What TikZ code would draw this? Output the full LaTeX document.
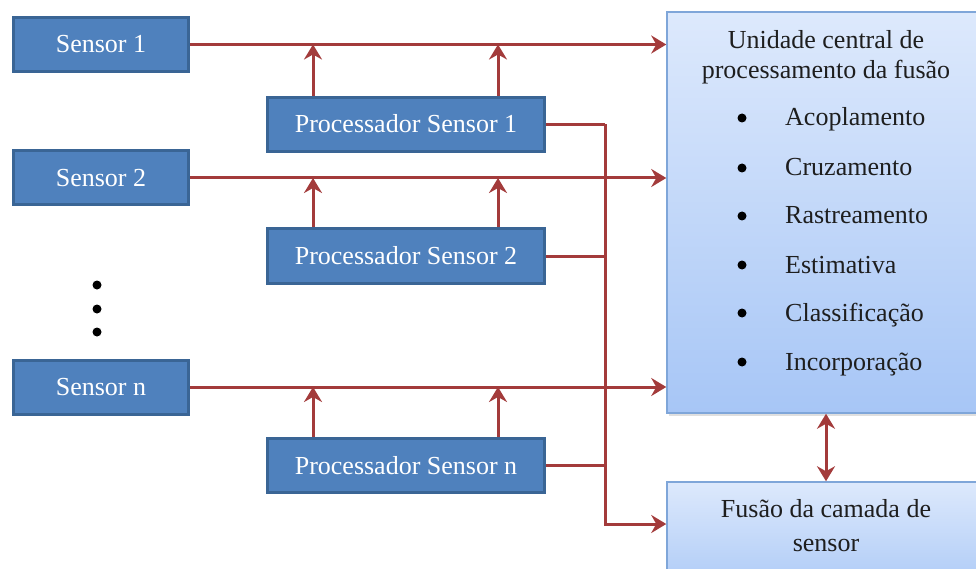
\documentclass[tikz,border=0pt]{standalone}
\usepackage{fontspec}
\setmainfont{Liberation Serif}
\usetikzlibrary{arrows.meta,shadows}
\definecolor{boxblue}{HTML}{4F81BD}
\definecolor{boxedge}{HTML}{3A6595}
\definecolor{linered}{HTML}{A33B3B}
\definecolor{lighttop}{HTML}{DDE9FC}
\definecolor{lightbot}{HTML}{A7C6F6}
\definecolor{fusbot}{HTML}{B0CCF7}
\definecolor{lightedge}{HTML}{7FA6D9}
\definecolor{darktext}{HTML}{1E1E1E}
\begin{document}
\begin{tikzpicture}[x=1pt,y=-1pt,
  sbox/.style={draw=boxedge, line width=3pt, fill=boxblue, text=white,
    minimum height=54pt, inner sep=0pt, text height=17pt, text depth=0pt,
    font=\fontsize{26}{30}\selectfont},
  cbox/.style={draw=lightedge, line width=1.5pt, top color=lighttop, bottom color=lightbot,
    inner sep=0pt, drop shadow={shadow xshift=2pt, shadow yshift=-3pt, opacity=0.25}},
  ctext/.style={text=darktext, inner sep=0pt, font=\fontsize{26}{30}\selectfont},
  bul/.style={circle, fill=black, inner sep=0pt, minimum size=9pt},
  vdot/.style={circle, fill=black, inner sep=0pt, minimum size=9pt},
  tip/.style={},
  arr/.style={draw=linered, line width=3pt, -{Stealth[length=15pt,width=18pt,inset=5pt]}},
  dbl/.style={draw=linered, line width=3pt, {Stealth[length=15pt,width=18pt,inset=5pt]}-{Stealth[length=15pt,width=18pt,inset=5pt]}},
  ln/.style={draw=linered, line width=3pt}]
\clip (0,0) rectangle (976,569);
\fill[white] (0,0) rectangle (976,569);

% central and fusion boxes
\node[cbox, minimum width=318pt, minimum height=401pt] (cen) at (826,212.5) {};
\node[cbox, top color=lighttop, bottom color=fusbot, minimum width=318pt, minimum height=100pt] (fus) at (826,532) {};

\node[ctext, anchor=base] (ct1) at (826,49) {Unidade central de};
\node[ctext, anchor=base] (ct2) at (826,79) {processamento da fusão};
\node[bul] (b1) at (742,118) {};
\node[bul] (b2) at (742,168) {};
\node[bul] (b3) at (742,216) {};
\node[bul] (b4) at (742,265) {};
\node[bul] (b5) at (742,313) {};
\node[bul] (b6) at (742,362) {};
\node[ctext, anchor=base west] (i1) at (785,126) {Acoplamento};
\node[ctext, anchor=base west] (i2) at (785,176) {Cruzamento};
\node[ctext, anchor=base west] (i3) at (785,224) {Rastreamento};
\node[ctext, anchor=base west] (i4) at (785,273) {Estimativa};
\node[ctext, anchor=base west] (i5) at (785,321) {Classificação};
\node[ctext, anchor=base west] (i6) at (785,370) {Incorporação};

\node[ctext, anchor=base] (ft1) at (826,517) {Fusão da camada de};
\node[ctext, anchor=base] (ft2) at (826,551) {sensor};

% sensors
\node[sbox, minimum width=175pt] (s1) at (101,44.5) {Sensor 1};
\node[sbox, minimum width=175pt] (s2) at (101,178) {Sensor 2};
\node[sbox, minimum width=175pt] (sn) at (101,387) {Sensor n};

\node[vdot] (d1) at (97,285) {};
\node[vdot] (d2) at (97,309) {};
\node[vdot] (d3) at (97,332) {};

% processors
\node[sbox, minimum width=277pt] (p1) at (406,124.5) {Processador Sensor 1};
\node[sbox, minimum width=277pt] (p2) at (406,256) {Processador Sensor 2};
\node[sbox, minimum width=277pt] (pn) at (406,465.5) {Processador Sensor n};

% sensor lines to central unit
\draw[arr] (s1.east) -- (s1.east -| cen.west);
\draw[arr] (s2.east) -- (s2.east -| cen.west);
\draw[arr] (sn.east) -- (sn.east -| cen.west);

% processor up arrows
\foreach \p/\s in {p1/s1,p2/s2,pn/sn}{
  \draw[arr] ([xshift=-93pt]\p.north) -- ([xshift=-93pt]\p.north |- \s.east);
  \draw[arr] ([xshift=92pt]\p.north) -- ([xshift=92pt]\p.north |- \s.east);
}

% bus to fusion
\coordinate (busTop) at (605,124.5);
\coordinate (busBot) at (605,524);
\draw[ln] (p1.east) -- (busTop);
\draw[arr] (busTop) -- (busBot) -- (busBot -| fus.west);
\draw[ln] (p2.east) -- (p2.east -| busTop);
\draw[ln] (pn.east) -- (pn.east -| busTop);

% central <-> fusion
\draw[dbl] (cen.south) -- (fus.north);
\end{tikzpicture}
\end{document}
